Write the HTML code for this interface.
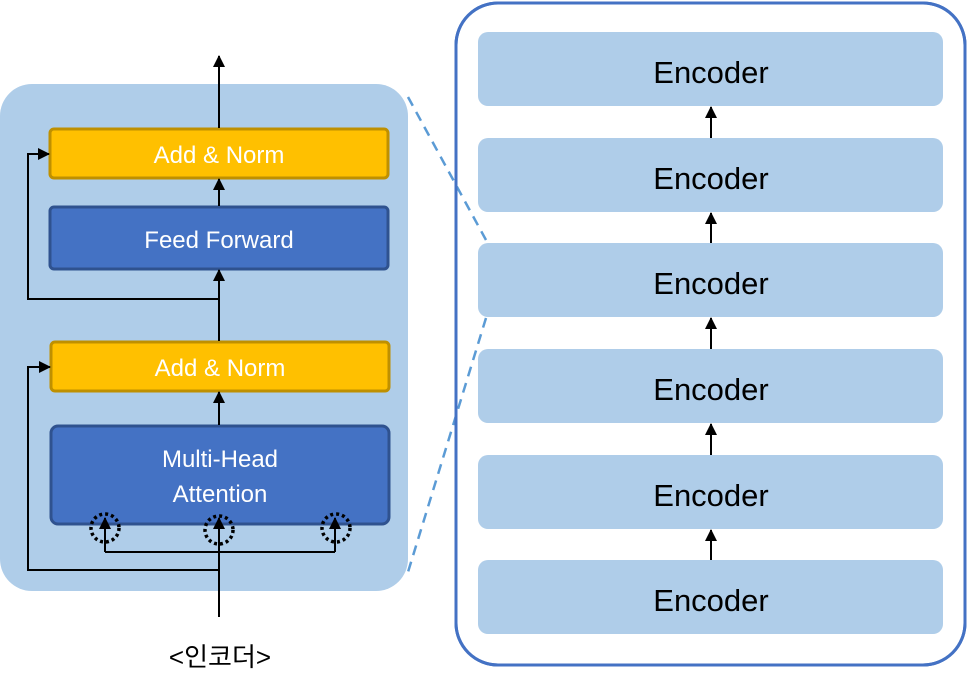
<!DOCTYPE html>
<html><head><meta charset="utf-8"><style>body{margin:0;background:#fff}</style></head><body>
<svg width="967" height="692" xmlns="http://www.w3.org/2000/svg" font-family="Liberation Sans, Noto Sans CJK KR, sans-serif">
<defs><marker id="b" markerWidth="12" markerHeight="12" refX="11" refY="6" orient="auto" markerUnits="userSpaceOnUse"><path d="M0,0L12,6L0,12z" fill="#000"/></marker></defs>
<rect x="0" y="84" width="408" height="507" rx="32" fill="#AFCDE9"/>
<rect x="456" y="3" width="509" height="662" rx="42" fill="#fff" stroke="#4472C4" stroke-width="3"/>
<line x1="408" y1="97" x2="486" y2="240" stroke="#5B9BD5" stroke-width="2.5" stroke-dasharray="10,7"/>
<line x1="486" y1="318" x2="408" y2="572" stroke="#5B9BD5" stroke-width="2.5" stroke-dasharray="10,7"/>
<rect x="456" y="3" width="509" height="662" rx="42" fill="none" stroke="#4472C4" stroke-width="3"/>
<g fill="#AFCDE9">
<rect x="478" y="32" width="465" height="74" rx="10"/><rect x="478" y="138" width="465" height="74" rx="10"/>
<rect x="478" y="243" width="465" height="74" rx="10"/><rect x="478" y="349" width="465" height="74" rx="10"/>
<rect x="478" y="455" width="465" height="74" rx="10"/><rect x="478" y="560" width="465" height="74" rx="10"/>
</g>
<g font-size="31" text-anchor="middle" fill="#000">
<text x="711" y="83">Encoder</text><text x="711" y="189">Encoder</text><text x="711" y="294">Encoder</text>
<text x="711" y="400">Encoder</text><text x="711" y="506">Encoder</text><text x="711" y="611">Encoder</text>
</g>
<g stroke="#000" stroke-width="2" fill="none" marker-end="url(#b)">
<line x1="711" y1="138" x2="711" y2="107"/><line x1="711" y1="243" x2="711" y2="213"/><line x1="711" y1="349" x2="711" y2="318"/>
<line x1="711" y1="455" x2="711" y2="424"/><line x1="711" y1="560" x2="711" y2="530"/>
</g>
<rect x="50" y="129" width="338" height="49" rx="4" fill="#FFC000" stroke="#BF9000" stroke-width="3"/>
<rect x="50" y="207" width="338" height="62" rx="4" fill="#4472C4" stroke="#2F528F" stroke-width="3"/>
<rect x="51" y="342" width="338" height="49" rx="4" fill="#FFC000" stroke="#BF9000" stroke-width="3"/>
<rect x="51" y="426" width="338" height="98" rx="7" fill="#4472C4" stroke="#2F528F" stroke-width="3"/>
<g fill="#fff" font-size="24" text-anchor="middle">
<text x="219" y="163">Add &amp; Norm</text><text x="219" y="248">Feed Forward</text>
<text x="220" y="376">Add &amp; Norm</text><text x="220" y="467">Multi-Head</text><text x="220" y="502">Attention</text>
</g>
<g stroke="#000" stroke-width="2" fill="none">
<line x1="219" y1="128" x2="219" y2="56" marker-end="url(#b)"/>
<line x1="219" y1="206" x2="219" y2="179" marker-end="url(#b)"/>
<line x1="219" y1="341" x2="219" y2="270" marker-end="url(#b)"/>
<line x1="219" y1="425" x2="219" y2="392" marker-end="url(#b)"/>
<polyline points="219,299 28,299 28,154 49,154" marker-end="url(#b)"/>
<polyline points="219,570 28,570 28,367 50,367" marker-end="url(#b)"/>
<line x1="219" y1="617" x2="219" y2="518" marker-end="url(#b)"/>
<polyline points="105,552 105,518" marker-end="url(#b)"/>
<polyline points="335,552 335,518" marker-end="url(#b)"/>
<line x1="105" y1="552" x2="335" y2="552"/>
</g>
<g fill="none" stroke="#000" stroke-width="3.5" stroke-dasharray="3,3">
<circle cx="105" cy="528" r="14"/><circle cx="219" cy="530" r="14"/><circle cx="336" cy="528" r="14"/>
</g>
<text x="220" y="666" font-size="26" text-anchor="middle" fill="#000">&lt;인코더&gt;</text>
</svg>
</body></html>
